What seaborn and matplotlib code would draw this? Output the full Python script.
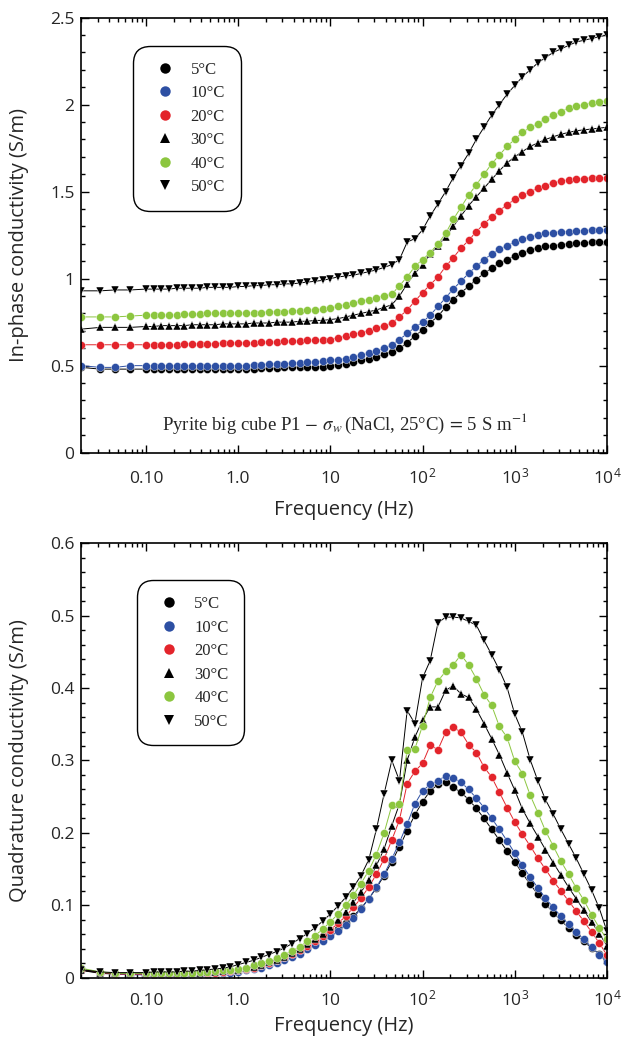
import numpy as np
import pandas as pd
import seaborn as sns
import matplotlib.pyplot as plt
from matplotlib.ticker import LogLocator, MultipleLocator, NullFormatter

sns.set_theme(style='ticks')
plt.rcParams['font.family'] = ['Open Sans', 'DejaVu Sans']
plt.rcParams['mathtext.fontset'] = 'custom'
plt.rcParams['mathtext.rm'] = 'Open Sans'
plt.rcParams['mathtext.it'] = 'Open Sans:italic'

# frequencies (Hz)
freq = [0.02, 0.032, 0.046, 0.068,
        0.1, 0.121, 0.147, 0.178, 0.215, 0.261, 0.316, 0.383, 0.464, 0.562, 0.681, 0.825,
        1.0, 1.21, 1.47, 1.78, 2.15, 2.61, 3.16, 3.83, 4.64, 5.62, 6.81, 8.25,
        10.0, 12.1, 14.7, 17.8, 21.5, 26.1, 31.6, 38.3, 46.4, 56.2, 68.1, 82.5,
        100, 121, 147, 178, 215, 261, 316, 383, 464, 562, 681, 825,
        1000, 1210, 1470, 1780, 2150, 2610, 3160, 3830, 4640, 5620, 6810, 8250, 10000]

temps = ['5°C', '10°C', '20°C', '30°C', '40°C', '50°C']

# in-phase conductivity (S/m)
phase_5 = [0.49, 0.48, 0.48, 0.48,
           0.48, 0.48, 0.48, 0.48, 0.48, 0.48, 0.48, 0.48, 0.48, 0.48, 0.48, 0.48,
           0.48, 0.48, 0.48, 0.485, 0.485, 0.485, 0.49, 0.49, 0.49, 0.49, 0.495, 0.495,
           0.50, 0.505, 0.51, 0.52, 0.53, 0.54, 0.55, 0.565, 0.58, 0.60, 0.63, 0.67,
           0.705, 0.745, 0.785, 0.835, 0.88, 0.92, 0.955, 0.995, 1.03, 1.06, 1.09, 1.11,
           1.13, 1.15, 1.165, 1.175, 1.185, 1.19, 1.195, 1.20, 1.205, 1.205, 1.21, 1.21, 1.21]
phase_10 = [0.50, 0.49, 0.49, 0.50,
            0.50, 0.50, 0.50, 0.50, 0.50, 0.50, 0.50, 0.50, 0.50, 0.50, 0.50, 0.50,
            0.50, 0.50, 0.505, 0.505, 0.51, 0.51, 0.51, 0.515, 0.515, 0.52, 0.52, 0.525,
            0.53, 0.535, 0.54, 0.55, 0.56, 0.57, 0.585, 0.60, 0.62, 0.65, 0.685, 0.72,
            0.75, 0.79, 0.84, 0.89, 0.94, 0.985, 1.03, 1.07, 1.11, 1.14, 1.17, 1.19,
            1.21, 1.225, 1.24, 1.25, 1.26, 1.265, 1.27, 1.27, 1.275, 1.275, 1.28, 1.28, 1.28]
phase_20 = [0.62, 0.62, 0.62, 0.62,
            0.62, 0.62, 0.62, 0.62, 0.62, 0.625, 0.625, 0.625, 0.625, 0.625, 0.63, 0.63,
            0.63, 0.63, 0.63, 0.635, 0.635, 0.635, 0.64, 0.64, 0.64, 0.645, 0.645, 0.65,
            0.65, 0.66, 0.67, 0.68, 0.69, 0.70, 0.715, 0.73, 0.745, 0.78, 0.82, 0.87,
            0.92, 0.965, 1.01, 1.07, 1.12, 1.175, 1.22, 1.27, 1.315, 1.355, 1.39, 1.425,
            1.455, 1.48, 1.50, 1.52, 1.535, 1.55, 1.56, 1.565, 1.57, 1.575, 1.58, 1.58, 1.58]
phase_30 = [0.71, 0.72, 0.72, 0.72,
            0.725, 0.725, 0.73, 0.73, 0.73, 0.73, 0.735, 0.735, 0.735, 0.735, 0.74, 0.74,
            0.74, 0.74, 0.745, 0.745, 0.745, 0.75, 0.75, 0.75, 0.755, 0.755, 0.76, 0.76,
            0.765, 0.77, 0.78, 0.79, 0.80, 0.81, 0.82, 0.835, 0.85, 0.90, 0.97, 1.03,
            1.08, 1.14, 1.19, 1.24, 1.30, 1.36, 1.42, 1.47, 1.52, 1.57, 1.62, 1.665,
            1.70, 1.73, 1.76, 1.78, 1.80, 1.815, 1.83, 1.84, 1.85, 1.855, 1.86, 1.865, 1.87]
phase_40 = [0.78, 0.78, 0.78, 0.785,
            0.79, 0.79, 0.79, 0.79, 0.79, 0.795, 0.795, 0.795, 0.80, 0.80, 0.80, 0.80,
            0.80, 0.80, 0.805, 0.805, 0.81, 0.81, 0.81, 0.815, 0.815, 0.82, 0.82, 0.825,
            0.83, 0.84, 0.85, 0.86, 0.87, 0.88, 0.89, 0.90, 0.91, 0.96, 1.01, 1.07,
            1.11, 1.15, 1.20, 1.26, 1.34, 1.41, 1.48, 1.54, 1.60, 1.66, 1.71, 1.76,
            1.80, 1.84, 1.87, 1.89, 1.92, 1.94, 1.96, 1.98, 1.99, 2.00, 2.01, 2.015, 2.02]
phase_50 = [0.93, 0.93, 0.935, 0.935,
            0.94, 0.94, 0.94, 0.94, 0.945, 0.945, 0.945, 0.945, 0.95, 0.95, 0.95, 0.95,
            0.955, 0.955, 0.96, 0.96, 0.965, 0.965, 0.97, 0.97, 0.975, 0.98, 0.985, 0.99,
            1.00, 1.01, 1.015, 1.02, 1.03, 1.04, 1.05, 1.065, 1.08, 1.11, 1.21, 1.23,
            1.28, 1.36, 1.43, 1.50, 1.58, 1.65, 1.72, 1.80, 1.87, 1.94, 2.00, 2.06,
            2.11, 2.16, 2.20, 2.24, 2.27, 2.30, 2.32, 2.34, 2.36, 2.37, 2.38, 2.39, 2.40]

# quadrature conductivity (S/m)
quad_5 = [0.010, 0.006, 0.005, 0.005,
          0.005, 0.005, 0.005, 0.005, 0.005, 0.006, 0.006, 0.006, 0.007, 0.007, 0.008, 0.009,
          0.010, 0.012, 0.014, 0.016, 0.019, 0.022, 0.026, 0.030, 0.035, 0.041, 0.047, 0.054,
          0.060, 0.067, 0.075, 0.085, 0.096, 0.109, 0.124, 0.141, 0.160, 0.181, 0.203, 0.225,
          0.243, 0.258, 0.267, 0.270, 0.263, 0.256, 0.246, 0.234, 0.220, 0.205, 0.190, 0.175,
          0.160, 0.144, 0.129, 0.115, 0.102, 0.090, 0.079, 0.069, 0.059, 0.050, 0.041, 0.033, 0.025]
quad_10 = [0.012, 0.007, 0.005, 0.004,
           0.004, 0.004, 0.004, 0.004, 0.004, 0.004, 0.005, 0.005, 0.005, 0.006, 0.006, 0.007,
           0.008, 0.010, 0.012, 0.014, 0.017, 0.020, 0.024, 0.028, 0.033, 0.039, 0.045, 0.051,
           0.057, 0.064, 0.073, 0.083, 0.095, 0.109, 0.125, 0.143, 0.164, 0.187, 0.212, 0.240,
           0.258, 0.267, 0.272, 0.279, 0.276, 0.270, 0.260, 0.248, 0.235, 0.220, 0.205, 0.189,
           0.172, 0.155, 0.139, 0.124, 0.110, 0.097, 0.085, 0.074, 0.063, 0.053, 0.042, 0.032, 0.021]
quad_20 = [0.011, 0.007, 0.005, 0.005,
           0.005, 0.005, 0.005, 0.005, 0.005, 0.006, 0.006, 0.006, 0.007, 0.007, 0.008, 0.009,
           0.010, 0.012, 0.014, 0.017, 0.020, 0.024, 0.028, 0.033, 0.038, 0.044, 0.051, 0.058,
           0.066, 0.075, 0.085, 0.097, 0.110, 0.125, 0.143, 0.164, 0.190, 0.218, 0.268, 0.285,
           0.296, 0.321, 0.315, 0.339, 0.346, 0.339, 0.322, 0.311, 0.291, 0.277, 0.256, 0.235,
           0.215, 0.198, 0.182, 0.165, 0.150, 0.134, 0.120, 0.106, 0.092, 0.078, 0.063, 0.048, 0.031]
quad_30 = [0.010, 0.007, 0.006, 0.006,
           0.006, 0.006, 0.006, 0.006, 0.006, 0.007, 0.007, 0.007, 0.008, 0.008, 0.009, 0.010,
           0.011, 0.013, 0.015, 0.018, 0.021, 0.025, 0.029, 0.034, 0.040, 0.046, 0.053, 0.061,
           0.070, 0.080, 0.091, 0.104, 0.118, 0.135, 0.155, 0.178, 0.210, 0.240, 0.300, 0.332,
           0.356, 0.374, 0.374, 0.397, 0.403, 0.392, 0.387, 0.371, 0.351, 0.330, 0.308, 0.283,
           0.259, 0.233, 0.213, 0.195, 0.177, 0.159, 0.142, 0.125, 0.109, 0.093, 0.077, 0.061, 0.044]
quad_40 = [0.013, 0.008, 0.006, 0.006,
           0.006, 0.006, 0.006, 0.006, 0.007, 0.007, 0.007, 0.008, 0.008, 0.009, 0.010, 0.011,
           0.012, 0.014, 0.017, 0.020, 0.023, 0.027, 0.032, 0.037, 0.043, 0.050, 0.058, 0.067,
           0.077, 0.088, 0.100, 0.114, 0.130, 0.148, 0.170, 0.200, 0.238, 0.240, 0.315, 0.316,
           0.348, 0.387, 0.410, 0.423, 0.432, 0.446, 0.432, 0.413, 0.391, 0.376, 0.347, 0.332,
           0.299, 0.282, 0.252, 0.228, 0.203, 0.182, 0.161, 0.143, 0.124, 0.107, 0.087, 0.069, 0.053]
quad_50 = [0.011, 0.008, 0.007, 0.007,
           0.007, 0.008, 0.008, 0.008, 0.008, 0.009, 0.009, 0.010, 0.011, 0.012, 0.013, 0.015,
           0.018, 0.021, 0.024, 0.028, 0.032, 0.036, 0.041, 0.047, 0.054, 0.061, 0.069, 0.078,
           0.088, 0.099, 0.111, 0.125, 0.141, 0.163, 0.205, 0.254, 0.300, 0.272, 0.369, 0.351,
           0.414, 0.438, 0.490, 0.498, 0.498, 0.497, 0.492, 0.487, 0.466, 0.446, 0.425, 0.401,
           0.364, 0.339, 0.301, 0.272, 0.246, 0.226, 0.205, 0.185, 0.165, 0.143, 0.121, 0.096, 0.064]

colors = {'5°C': '#000000', '10°C': '#2d4fa3', '20°C': '#e3242b',
          '30°C': '#000000', '40°C': '#8cc63f', '50°C': '#000000'}
markers = {'5°C': 'o', '10°C': 'o', '20°C': 'o', '30°C': '^', '40°C': 'o', '50°C': 'v'}


def long_table(series):
    return pd.DataFrame({'freq': freq * len(series),
                         'value': [v for s in series for v in s],
                         'temp': np.repeat(temps, len(freq))})


def draw_panel(ax, series, ylabel, yticks, ylabels, yminor, ytop, legend_anchor,
               xpad, xlabel_y):
    df = long_table(series)
    sns.lineplot(data=df, x='freq', y='value', hue='temp', style='temp',
                 hue_order=temps, style_order=temps, palette=colors, markers=markers,
                 dashes=False, markersize=5.8, linewidth=0.7, sort=False,
                 markeredgecolor='white', markeredgewidth=0.3, errorbar=None, ax=ax)
    ax.set_xscale('log')
    ax.set_xlim(0.02, 10000)
    ax.set_ylim(0, ytop)
    ax.set_xticks([0.1, 1, 10, 100, 1000, 10000],
                  ['0.10', '1.0', '10', r'$10^2$', r'$10^3$', r'$10^4$'])
    ax.xaxis.set_minor_locator(LogLocator(base=10, subs=np.arange(2, 10)))
    ax.xaxis.set_minor_formatter(NullFormatter())
    ax.set_yticks(yticks, ylabels)
    ax.yaxis.set_minor_locator(MultipleLocator(yminor))
    ax.tick_params(which='both', direction='in', top=True, right=True, width=1.0, color='black')
    ax.tick_params(which='major', length=5.5, labelsize=12.5)
    ax.tick_params(which='minor', length=3.2)
    ax.tick_params(axis='x', which='major', pad=xpad)
    ax.tick_params(axis='y', which='major', pad=5)
    for lbl in ax.get_xticklabels():
        lbl.set_verticalalignment('baseline')
    for sp in ax.spines.values():
        sp.set_linewidth(1.2)
        sp.set_color('black')
    ax.set_xlabel('Frequency (Hz)', fontsize=14.5)
    ax.set_ylabel(ylabel, fontsize=14.5)
    ax.xaxis.set_label_coords(0.5, xlabel_y)
    ax.yaxis.set_label_coords(-0.1, 0.5)

    handles, labels = ax.get_legend_handles_labels()
    ax.get_legend().remove()
    for h in handles:
        h.set_linestyle('none')
        h.set_markersize(7.5)
        h.set_markeredgewidth(0)
    leg = ax.legend(handles, labels, loc='upper left', bbox_to_anchor=legend_anchor,
                    prop={'family': 'Liberation Serif', 'size': 12}, frameon=True,
                    fancybox=True, framealpha=1, edgecolor='black', borderpad=0.95,
                    handlelength=2.0, handletextpad=0.5, labelspacing=0.45, borderaxespad=0)
    leg.get_frame().set_linewidth(1.0)
    leg.get_frame().set_boxstyle('round,pad=0,rounding_size=1.0')


fig = plt.figure(figsize=(6.21, 10.37), dpi=100)
ax1 = fig.add_axes([0.1312, 0.5635, 0.8462, 0.4195])
ax2 = fig.add_axes([0.1312, 0.0572, 0.8462, 0.4189])

draw_panel(ax1, [phase_5, phase_10, phase_20, phase_30, phase_40, phase_50],
           'In-phase conductivity (S/m)',
           [0, 0.5, 1, 1.5, 2, 2.5], ['0', '0.5', '1', '1.5', '2', '2.5'],
           0.1, 2.5, (0.098, 0.935), 22, -0.108)
draw_panel(ax2, [quad_5, quad_10, quad_20, quad_30, quad_40, quad_50],
           'Quadrature conductivity (S/m)',
           [0, 0.1, 0.2, 0.3, 0.4, 0.5, 0.6], ['0', '0.1', '0.2', '0.3', '0.4', '0.5', '0.6'],
           0.02, 0.6, (0.105, 0.915), 20, -0.088)

ax1.text(0.5, 0.066, r'Pyrite big cube P1$\,-\,\sigma_w\,$(NaCl, 25°C)$\,=\,$5 S m$^{-1}$',
         transform=ax1.transAxes, ha='center', va='center', fontsize=13.5,
         family='Liberation Serif', math_fontfamily='stix')

fig.savefig('out.png', dpi=100)
